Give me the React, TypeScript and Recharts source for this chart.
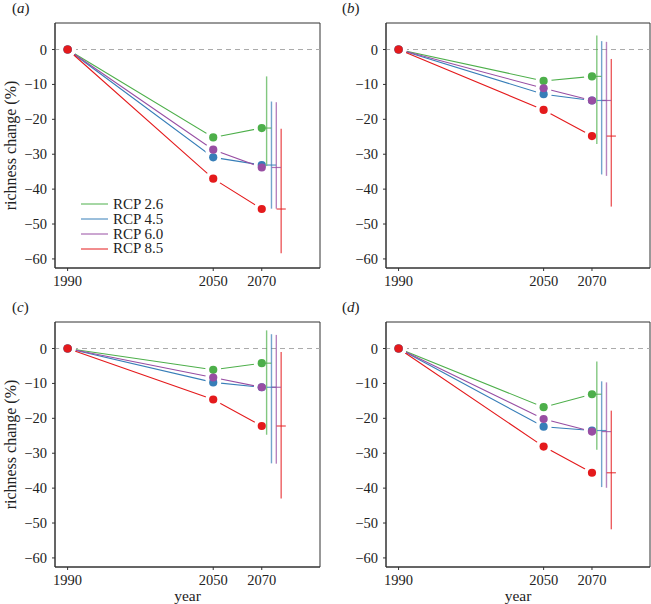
import React from 'react';
import { ComposedChart, XAxis, YAxis, Scatter, ReferenceLine, ReferenceArea } from 'recharts';

const years = [1990, 2050, 2070];
const scenarios = ['RCP 2.6', 'RCP 4.5', 'RCP 6.0', 'RCP 8.5'];
const barYears = [2072, 2074, 2076, 2078];
const yTicks = [0, -10, -20, -30, -40, -50, -60];
const xTicks = [1990, 2050, 2070];

// mean richness change (%) per scenario at 1990, 2050, 2070
const meansA = [[0, -25.2, -22.5], [0, -30.9, -33.1], [0, -28.7, -33.8], [0, -37.0, -45.7]];
const meansB = [[0, -9.0, -7.7], [0, -12.8, -14.6], [0, -11.1, -14.6], [0, -17.3, -24.8]];
const meansC = [[0, -6.1, -4.2], [0, -9.7, -11.1], [0, -8.3, -11.1], [0, -14.6, -22.2]];
const meansD = [[0, -16.8, -13.1], [0, -22.4, -23.5], [0, -20.2, -23.8], [0, -28.1, -35.6]];

// 2070 spread per scenario [low, high]
const rangesA = [[-33.4, -7.7], [-45.6, -14.9], [-45.6, -15.1], [-58.4, -22.7]];
const rangesB = [[-27.1, 4.0], [-35.8, 2.4], [-36.2, 2.2], [-45.0, -2.7]];
const rangesC = [[-24.7, 5.2], [-32.9, 4.1], [-33.0, 3.9], [-43.0, -1.0]];
const rangesD = [[-29.0, -3.7], [-39.7, -9.4], [-39.9, -9.7], [-51.8, -17.8]];

const COLORS = ['#4daf4a', '#377eb8', '#984ea3', '#e41a1c'];
const X_DOMAIN: [number, number] = [1984.8, 2094];
const Y_DOMAIN: [number, number] = [-62.6, 7.6];
const TICK_HALF = 1.9;
const FONT = "'Liberation Serif', 'Times New Roman', serif";
const INK = '#222';

const fmt = (v: number) => String(v).replace('-', '\u2212');
const noShape = () => <g />;

const XTick = ({ x, y, payload }: any) => (
  <text x={x} y={y} dy="0.71em" textAnchor="middle" style={{ fontFamily: FONT }} fontSize={14.5} fill={INK}>
    {payload.value}
  </text>
);

const YTick = ({ x, y, payload }: any) => (
  <text x={x} y={y} dy="0.35em" textAnchor="end" style={{ fontFamily: FONT }} fontSize={14.5} fill={INK}>
    {fmt(payload.value)}
  </text>
);

const LegendBox = () => (
  <div style={{ position: 'absolute', left: 81, top: 197, fontFamily: FONT, fontSize: 15, color: INK }}>
    {scenarios.map((name, i) => (
      <div key={name} style={{ display: 'flex', alignItems: 'center', height: 14.8 }}>
        <svg width={30} height={4} style={{ marginRight: 2 }}>
          <line x1={0} y1={2} x2={27} y2={2} stroke={COLORS[i]} strokeWidth={1} />
        </svg>
        <span>{name}</span>
      </div>
    ))}
  </div>
);

type PanelProps = {
  tag: string;
  means: number[][];
  ranges: number[][];
  left: number;
  top: number;
  width: number;
  rightMargin: number;
  yTitle?: boolean;
  xTitle?: boolean;
  legend?: boolean;
};

const Panel = ({ tag, means, ranges, left, top, width, rightMargin, yTitle, xTitle, legend }: PanelProps) => {
  const height = xTitle ? 305 : 300;
  const pts = (s: number) => years.map((x, i) => ({ x, y: means[s][i] }));
  const allPts = means.flatMap((_, s) => pts(s));
  return (
    <div style={{ position: 'absolute', left, top, width, height }}>
      <ComposedChart width={width} height={height} margin={{ top: 23, right: rightMargin, bottom: 0, left: 0 }}>
        <XAxis
          type="number"
          dataKey="x"
          domain={X_DOMAIN}
          ticks={xTicks}
          allowDataOverflow
          height={xTitle ? 37 : 32}
          tickSize={3}
          tickMargin={5}
          stroke="#333"
          tick={<XTick />}
          label={xTitle ? { value: 'year', position: 'insideBottom', offset: 3, style: { fontFamily: FONT, fontSize: 15.5, fill: INK } } : undefined}
        />
        <YAxis
          type="number"
          dataKey="y"
          domain={Y_DOMAIN}
          ticks={yTicks}
          allowDataOverflow
          width={55}
          tickSize={3}
          tickMargin={5}
          stroke="#333"
          tick={<YTick />}
          label={yTitle ? { value: 'richness change (%)', angle: -90, position: 'insideLeft', offset: 10, style: { textAnchor: 'middle', fontFamily: FONT, fontSize: 16, fill: INK } } : undefined}
        />
        <ReferenceArea x1={X_DOMAIN[0]} x2={X_DOMAIN[1]} y1={Y_DOMAIN[0]} y2={Y_DOMAIN[1]} fill="none" stroke="#333" strokeWidth={1} />
        <ReferenceLine y={0} stroke="#aaa" strokeDasharray="5 4" />
        {means.map((_, s) => (
          <Scatter key={'l' + s} data={pts(s)} line={{ stroke: COLORS[s], strokeWidth: 1.1 }} shape={noShape} isAnimationActive={false} />
        ))}
        <Scatter data={allPts} shape={(p: any) => <circle cx={p.cx} cy={p.cy} r={8} fill="#fff" />} isAnimationActive={false} />
        {means.map((_, s) => (
          <Scatter key={'d' + s} data={pts(s)} fill={COLORS[s]} shape={(p: any) => <circle cx={p.cx} cy={p.cy} r={4.1} fill={COLORS[s]} />} isAnimationActive={false} />
        ))}
        {ranges.map((r, s) => (
          <Scatter
            key={'v' + s}
            data={[{ x: barYears[s], y: r[0] }, { x: barYears[s], y: r[1] }]}
            line={{ stroke: COLORS[s], strokeWidth: 1.4, strokeOpacity: 0.7 }}
            shape={noShape}
            isAnimationActive={false}
          />
        ))}
        {ranges.map((_, s) => (
          <Scatter
            key={'h' + s}
            data={[{ x: barYears[s] - TICK_HALF, y: means[s][2] }, { x: barYears[s] + TICK_HALF, y: means[s][2] }]}
            line={{ stroke: COLORS[s], strokeWidth: 1.2, strokeOpacity: 0.8 }}
            shape={noShape}
            isAnimationActive={false}
          />
        ))}
      </ComposedChart>
      {legend && <LegendBox />}
      <div style={{ position: 'absolute', left: tag === 'a' || tag === 'c' ? 12 : 11, top: 0, fontFamily: FONT, fontSize: 15, color: INK, lineHeight: '17px' }}>
        (<i>{tag}</i>)
      </div>
    </div>
  );
};

export default function App() {
  return (
    <div style={{ position: 'absolute', left: 0, top: 0, width: 651, height: 604, background: '#fff', overflow: 'hidden' }}>
      <Panel tag="a" means={meansA} ranges={rangesA} left={0} top={0} width={325} rightMargin={5} yTitle legend />
      <Panel tag="b" means={meansB} ranges={rangesB} left={331} top={0} width={320} rightMargin={1} />
      <Panel tag="c" means={meansC} ranges={rangesC} left={0} top={299} width={325} rightMargin={5} yTitle xTitle />
      <Panel tag="d" means={meansD} ranges={rangesD} left={331} top={299} width={320} rightMargin={1} xTitle />
    </div>
  );
}
